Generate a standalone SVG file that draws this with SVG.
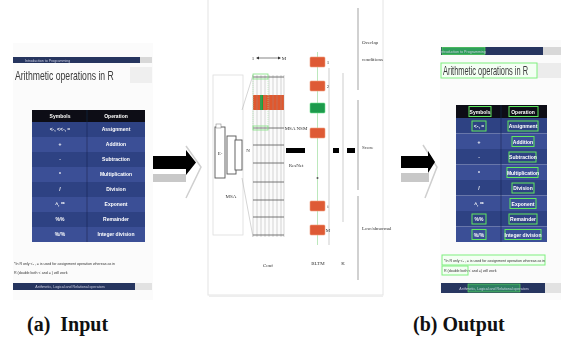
<svg xmlns="http://www.w3.org/2000/svg" width="561" height="339" viewBox="0 0 561 339">
<defs>
<filter id="soft" x="-5%" y="-5%" width="110%" height="110%"><feGaussianBlur stdDeviation="0.5"/></filter>
<style>
.nav{fill:#27345f}
.rowA{fill:#2f4283}
.rowB{fill:#3b5096}
.hdr{fill:#0d0d14}
.wt{fill:#ffffff;font-family:"Liberation Sans",Arial,sans-serif;font-size:5px;font-weight:bold;text-anchor:middle}
.title{font-family:"Liberation Sans",Arial,sans-serif;font-size:12px;fill:#3a3a3a}
.note{font-family:"Liberation Sans",Arial,sans-serif;font-size:3.6px;fill:#333}
.bar{font-family:"Liberation Sans",Arial,sans-serif;font-size:3.6px;fill:#c8cde0;text-anchor:middle}
.gb{fill:none;stroke:#5ee85e;stroke-width:1}
.cap{font-family:"Liberation Serif","Times New Roman",serif;font-size:20px;font-weight:bold;fill:#111}
.lbl{font-family:"Liberation Serif","Times New Roman",serif;font-size:5px;fill:#333}
.orb{fill:#de5a34;stroke:#f0a080;stroke-width:0.6}
.grn{fill:#1a9a4c;stroke:#6ee08a;stroke-width:0.6}
.gl{stroke:#555;stroke-width:0.8}
.vl{stroke:#999;stroke-width:0.4}
</style>
</defs>

<g id="input-slide" filter="url(#soft)">
<rect x="13" y="43" width="140" height="257" fill="#fbfbfb"/>
<rect x="13" y="57" width="127" height="6" class="nav"/>
<rect x="140" y="57" width="12" height="6" fill="#d8d8d8"/>
<text x="25" y="61.6" class="note" style="fill:#c8cde0">Introduction to Programming</text>
<rect x="130" y="67" width="22" height="16" fill="#efefef"/>
<text class="title" font-size="13" transform="translate(15,80) scale(0.72,1)">Arithmetic operations in R</text>
<rect x="32" y="110" width="113" height="12" class="hdr"/>
<rect x="32" y="122" width="113" height="15" class="rowA"/>
<rect x="32" y="137" width="113" height="15" class="rowB"/>
<rect x="32" y="152" width="113" height="15" class="rowA"/>
<rect x="32" y="167" width="113" height="15" class="rowB"/>
<rect x="32" y="182" width="113" height="15" class="rowA"/>
<rect x="32" y="197" width="113" height="15" class="rowB"/>
<rect x="32" y="212" width="113" height="15" class="rowA"/>
<rect x="32" y="227" width="113" height="15" class="rowB"/>
<line x1="87" y1="110" x2="87" y2="242" stroke="#1a2450" stroke-width="0.6"/>
<text x="60" y="118" class="wt">Symbols</text>
<text x="116" y="118" class="wt">Operation</text>
<text x="60" y="131" class="wt">&lt;-, &lt;&lt;-, =</text><text x="116" y="131" class="wt">Assignment</text>
<text x="60" y="146" class="wt">+</text><text x="116" y="146" class="wt">Addition</text>
<text x="60" y="161" class="wt">-</text><text x="116" y="161" class="wt">Subtraction</text>
<text x="60" y="176" class="wt">*</text><text x="116" y="176" class="wt">Multiplication</text>
<text x="60" y="191" class="wt">/</text><text x="116" y="191" class="wt">Division</text>
<text x="60" y="206" class="wt">^, **</text><text x="116" y="206" class="wt">Exponent</text>
<text x="60" y="221" class="wt">%%</text><text x="116" y="221" class="wt">Remainder</text>
<text x="60" y="236" class="wt">%/%</text><text x="116" y="236" class="wt">Integer division</text>
<text x="14" y="265" class="note">*In R only &lt;- , = is used for assignment operation whereas as in</text>
<text x="14" y="274" class="note">R (double both &lt; and = ) will work</text>
<rect x="13" y="283" width="122" height="7" class="nav"/>
<rect x="135" y="283" width="17" height="7" fill="#e2e2e2"/>
<text x="70" y="288" class="bar">Arithmetic, Logical and Relational operators</text>
</g>

<g id="arrow-1" filter="url(#soft)">
<rect x="153" y="174" width="33" height="8" fill="#c8c8c8"/>
<polyline points="186,146 201,167 186,198" fill="none" stroke="#cfcfcf" stroke-width="1.5"/>
<polygon points="153,156 186,156 186,150 196,162.5 186,175 186,169 153,169" fill="#000"/>
</g>

<g id="model-panel" filter="url(#soft)">
<rect x="208" y="-2" width="175" height="297" fill="#ffffff" stroke="#e4e4e4" stroke-width="1"/>
<line x1="209" y1="296" x2="383" y2="296" stroke="#eeeeee" stroke-width="2"/>
<rect x="213" y="75" width="30" height="160" fill="none" stroke="#dddddd" stroke-width="0.8"/>
<g id="msa-icon">
<rect x="215" y="127" width="10" height="51" fill="#fff" stroke="#555" stroke-width="0.9"/>
<rect x="216" y="124" width="5" height="4" fill="#fff" stroke="#777" stroke-width="0.5"/>
<text x="220" y="155" class="lbl" text-anchor="middle" font-size="4">E-</text>
<rect x="227" y="136" width="9" height="38" fill="#fff" stroke="#555" stroke-width="0.9"/>
<rect x="235" y="140" width="7" height="30" fill="#fff" stroke="#555" stroke-width="0.9"/>
<text x="231" y="198" class="lbl" text-anchor="middle" font-size="4">MSA</text>
</g>
<line x1="242" y1="110" x2="253" y2="75" stroke="#aaa" stroke-width="0.5"/>
<line x1="242" y1="178" x2="253" y2="237" stroke="#aaa" stroke-width="0.5"/>
<g id="grid">
<rect x="253" y="75" width="31" height="162" fill="#fbfbfb"/>
<rect x="253" y="95" width="31" height="15" fill="#e0582e"/>
<rect x="260" y="95" width="3" height="15" fill="#1f9e3e"/>
<g class="vl">
<line x1="253" y1="75" x2="253" y2="237"/><line x1="257" y1="75" x2="257" y2="237"/><line x1="261" y1="75" x2="261" y2="237"/><line x1="265" y1="75" x2="265" y2="237"/><line x1="269" y1="75" x2="269" y2="237"/><line x1="273" y1="75" x2="273" y2="237"/><line x1="277" y1="75" x2="277" y2="237"/><line x1="281" y1="75" x2="281" y2="237"/><line x1="284" y1="75" x2="284" y2="237"/>
</g>
<g class="gl">
<line x1="253" y1="77" x2="284" y2="77"/><line x1="253" y1="128" x2="284" y2="128"/><line x1="253" y1="145" x2="284" y2="145"/><line x1="253" y1="163" x2="284" y2="163"/><line x1="253" y1="182" x2="284" y2="182"/><line x1="253" y1="200" x2="284" y2="200"/><line x1="253" y1="217" x2="284" y2="217"/><line x1="253" y1="235" x2="284" y2="235"/>
</g>
<rect x="253" y="74" width="15" height="5" fill="none" stroke="#7ee07e" stroke-width="0.8"/>
<rect x="253" y="126" width="15" height="4" fill="none" stroke="#7ee07e" stroke-width="0.8"/>
<line x1="253" y1="79" x2="253" y2="126" stroke="#9ee89e" stroke-width="0.5" stroke-dasharray="1,1"/>
<line x1="268" y1="79" x2="268" y2="126" stroke="#9ee89e" stroke-width="0.5" stroke-dasharray="1,1"/>
</g>
<text x="253" y="60" class="lbl" text-anchor="middle">1</text>
<line x1="257" y1="58" x2="280" y2="58" stroke="#333" stroke-width="0.6"/>
<polygon points="256,58 259,56.5 259,59.5" fill="#333"/>
<polygon points="281,58 278,56.5 278,59.5" fill="#333"/>
<text x="284" y="60" class="lbl" text-anchor="middle">M</text>
<text x="248" y="152" class="lbl" text-anchor="middle">N</text>
<text x="268" y="267" class="lbl" text-anchor="middle">Conf</text>
<text x="296" y="130" class="lbl" text-anchor="middle" font-size="4.5">MSA NSM</text>
<rect x="286" y="148" width="19" height="5" fill="#000"/>
<text x="296" y="167" class="lbl" text-anchor="middle" font-size="4.5">ResNet</text>
<g id="bltm">
<line x1="317.5" y1="52" x2="317.5" y2="245" stroke="#8ed88e" stroke-width="0.6"/>
<rect x="310" y="57" width="15" height="10" rx="1" class="orb"/>
<rect x="310" y="81" width="15" height="10" rx="1" class="orb"/>
<rect x="310" y="103" width="15" height="10" rx="1" class="grn"/>
<rect x="310" y="128" width="15" height="10" rx="1" class="orb"/>
<circle cx="317.5" cy="178" r="1" fill="#555"/>
<rect x="310" y="201" width="15" height="10" rx="1" class="orb"/>
<rect x="310" y="225" width="15" height="10" rx="1" class="orb"/>
<text x="328" y="64" class="lbl" text-anchor="middle">1</text>
<text x="328" y="88" class="lbl" text-anchor="middle">2</text>
<text x="328" y="208" class="lbl" text-anchor="middle">i</text>
<text x="328" y="232" class="lbl" text-anchor="middle">M</text>
<text x="318" y="265" class="lbl" text-anchor="middle">BLTM</text>
</g>
<line x1="329" y1="68" x2="329" y2="245" stroke="#999" stroke-width="0.5"/>
<line x1="343" y1="73" x2="343" y2="222" stroke="#999" stroke-width="0.5"/>
<rect x="333" y="148" width="6" height="5" fill="#000"/>
<rect x="347" y="148" width="8" height="5" fill="#000"/>
<text x="343" y="265" class="lbl" text-anchor="middle">K</text>
<line x1="358" y1="8" x2="358" y2="90" stroke="#666" stroke-width="0.6"/>
<line x1="358" y1="100" x2="358" y2="190" stroke="#666" stroke-width="0.6"/>
<line x1="358" y1="196" x2="358" y2="280" stroke="#666" stroke-width="0.6"/>
<text x="362" y="44" class="lbl" font-size="4.5">Overlap</text>
<text x="362" y="61" class="lbl" font-size="4.5">conditions</text>
<text x="362" y="149" class="lbl" font-size="4.5">Score</text>
<text x="362" y="230" class="lbl" font-size="4.5">Low/abnormal</text>
</g>

<g id="arrow-2" filter="url(#soft)">
<rect x="401" y="173" width="28" height="9" fill="#c8c8c8"/>
<polyline points="423,145 437,167 425,198" fill="none" stroke="#cfcfcf" stroke-width="1.5"/>
<polygon points="401,156 428,156 428,151 435,162 428,173 428,168 401,168" fill="#000"/>
</g>

<g id="output-slide" filter="url(#soft)">
<rect x="440" y="40" width="121" height="260" fill="#fbfbfb"/>
<rect x="441" y="47" width="102" height="8" class="nav"/>
<rect x="543" y="47" width="18" height="8" fill="#d8d8d8"/>
<rect x="442" y="47.5" width="43" height="7" fill="#2f9e5a" stroke="#5ee85e" stroke-width="0.6"/>
<text x="463" y="52.5" class="bar">Introduction to Programming</text>
<rect x="537" y="63" width="24" height="15" fill="#ececec"/>
<rect x="441" y="63" width="96" height="15" fill="#f4fff4" stroke="#7ef07e" stroke-width="1"/>
<text class="title" font-size="12" transform="translate(443,75) scale(0.62,1)">Arithmetic operations in R</text>
<rect x="456" y="105" width="91" height="13" class="hdr"/>
<rect x="456" y="118" width="91" height="15.5" class="rowA"/>
<rect x="456" y="133.5" width="91" height="15.5" class="rowB"/>
<rect x="456" y="149" width="91" height="15.5" class="rowA"/>
<rect x="456" y="164.5" width="91" height="15.5" class="rowB"/>
<rect x="456" y="180" width="91" height="15.5" class="rowA"/>
<rect x="456" y="195.5" width="91" height="15.5" class="rowB"/>
<rect x="456" y="211" width="91" height="15.5" class="rowA"/>
<rect x="456" y="226.5" width="91" height="15.5" class="rowB"/>
<line x1="501" y1="105" x2="501" y2="242" stroke="#1a2450" stroke-width="0.6"/>
<rect x="469" y="106.5" width="22" height="10" class="gb"/>
<rect x="509" y="106.5" width="29" height="10" class="gb"/>
<text x="480" y="114" class="wt" font-size="4.5">Symbols</text>
<text x="523" y="114" class="wt" font-size="4.5">Operation</text>
<g class="gb">
<rect x="472" y="121" width="14" height="10"/>
<rect x="508" y="121" width="30" height="10"/>
<rect x="512" y="136.5" width="22" height="10"/>
<rect x="509" y="152" width="27" height="10"/>
<rect x="507" y="167.5" width="31" height="10"/>
<rect x="512" y="183" width="22" height="10"/>
<rect x="510" y="198.5" width="26" height="10"/>
<rect x="472" y="214" width="14" height="10"/>
<rect x="509" y="214" width="28" height="10"/>
<rect x="472" y="229.5" width="14" height="10"/>
<rect x="505" y="229.5" width="36" height="10"/>
</g>
<text x="479" y="128" class="wt" font-size="4.5">&lt;-, =</text><text x="523" y="128" class="wt" font-size="4.5">Assignment</text>
<text x="479" y="143.5" class="wt" font-size="4.5">+</text><text x="523" y="143.5" class="wt" font-size="4.5">Addition</text>
<text x="479" y="159" class="wt" font-size="4.5">-</text><text x="523" y="159" class="wt" font-size="4.5">Subtraction</text>
<text x="479" y="174.5" class="wt" font-size="4.5">*</text><text x="523" y="174.5" class="wt" font-size="4.5">Multiplication</text>
<text x="479" y="190" class="wt" font-size="4.5">/</text><text x="523" y="190" class="wt" font-size="4.5">Division</text>
<text x="479" y="205.5" class="wt" font-size="4.5">^, **</text><text x="523" y="205.5" class="wt" font-size="4.5">Exponent</text>
<text x="479" y="221" class="wt" font-size="4.5">%%</text><text x="523" y="221" class="wt" font-size="4.5">Remainder</text>
<text x="479" y="236.5" class="wt" font-size="4.5">%/%</text><text x="523" y="236.5" class="wt" font-size="4.5">Integer division</text>
<rect x="442" y="255" width="103" height="10" fill="#f4fff4" stroke="#7ef07e" stroke-width="1"/>
<rect x="442" y="266" width="26" height="9" fill="#f4fff4" stroke="#7ef07e" stroke-width="1"/>
<text x="444" y="261.5" class="note">*In R only &lt;- , = is used for assignment operation whereas as in</text>
<text x="444" y="272" class="note">R (double both &lt; and =) will work</text>
<rect x="441" y="283" width="104" height="10" class="nav"/>
<rect x="545" y="283" width="16" height="10" fill="#e2e2e2"/>
<rect x="468" y="284" width="52" height="8" fill="#2f7f62" stroke="#5ee85e" stroke-width="0.6"/>
<text x="494" y="289.5" class="bar">Arithmetic, Logical and Relational operators</text>
</g>

<g id="captions">
<text x="27" y="331" class="cap" xml:space="preserve">(a)  Input</text>
<text x="413" y="331" class="cap">(b) Output</text>
</g>
</svg>
